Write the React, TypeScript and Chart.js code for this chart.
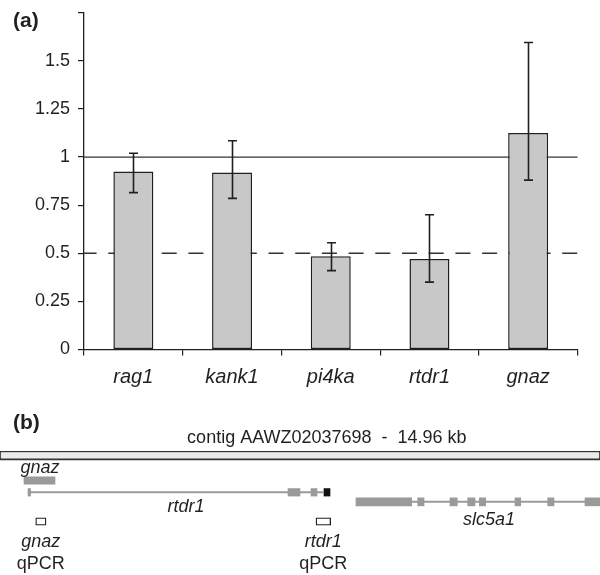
import React, { useEffect, useRef } from 'react';
import { Chart, registerables } from 'chart.js';

Chart.register(...registerables);

const FONT = "'Liberation Sans', Arial, Helvetica, sans-serif";
const INK = '#231f20';

// ---------- Panel (a) data ----------
const genes = ['rag1', 'kank1', 'pi4ka', 'rtdr1', 'gnaz'];
const relativeExpression = [0.925, 0.92, 0.485, 0.47, 1.125];
const errorLower = [0.815, 0.785, 0.41, 0.35, 0.88];
const errorUpper = [1.02, 1.085, 0.555, 0.7, 1.595];
const yAxisMin = 0;
const yAxisMax = 1.75;
const yAxisStep = 0.25;
const hiddenTickValues = [1.75];
const solidReferenceValue = 1;
const dashedReferenceValue = 0.5;
const panelALabel = '(a)';

// ---------- Panel (b) data (positions along contig, kb) ----------
const contigLengthKb = 14.96;
const contigTitle = 'contig AAWZ02037698  -  14.96 kb';
const panelBLabel = '(b)';
const gnazGeneExons = [[0.598, 1.371]];
const rtdr1Span = [0.698, 8.078];
const rtdr1Exons = [[0.698, 0.762], [7.181, 7.48], [7.754, 7.904]];
const rtdr1TerminalExon = [[8.078, 8.228]];
const slc5a1Span = [8.876, 14.96];
const slc5a1Exons = [
  [8.876, 10.265], [10.415, 10.572], [11.22, 11.402], [11.661, 11.843],
  [11.951, 12.11], [12.841, 12.983], [13.656, 13.813], [14.586, 14.96],
];
const qpcrAmplicons = [[0.89, 1.147], [7.879, 8.245]];
const qpcrTargets = ['gnaz', 'rtdr1'];
const geneNames = ['gnaz', 'rtdr1', 'slc5a1'];
const geneNameKb = [0.997, 4.638, 12.19];
const contigTitleKb = 8.15;

// ---------- layout (panel b tracks, px from panel top) ----------
const PANEL_A_H = 390;
const PANEL_B_H = 185;
const TRACK = {
  contig: 62.8,
  gnazGene: 90.3,
  rtdr1: 103.4,
  slc5a1: 114,
  qpcr: 135.8,
};
const BASELINE = {
  title: 53,
  panel: 39,
  gnazName: 83,
  rtdr1Name: 121.5,
  slc5a1Name: 135,
  qpcrTarget: 156.5,
  qpcrWord: 179,
};

function fmtTick(v: number) {
  const r = Math.round(v * 100) / 100;
  return String(r);
}

export default function App() {
  const refA = useRef<HTMLCanvasElement>(null);
  const refB = useRef<HTMLCanvasElement>(null);

  useEffect(() => {
    const refLines = {
      id: 'refLines',
      beforeDatasetsDraw(chart: any) {
        const { ctx, chartArea, scales } = chart;
        const y = scales.y;
        ctx.save();
        ctx.strokeStyle = '#333';
        ctx.lineWidth = 1.3;
        let py = y.getPixelForValue(solidReferenceValue);
        ctx.beginPath();
        ctx.moveTo(chartArea.left, py);
        ctx.lineTo(chartArea.right, py);
        ctx.stroke();
        py = y.getPixelForValue(dashedReferenceValue);
        ctx.setLineDash([15, 11.7]);
        ctx.lineDashOffset = 2.4;
        ctx.beginPath();
        ctx.moveTo(chartArea.left, py);
        ctx.lineTo(chartArea.right, py);
        ctx.stroke();
        ctx.restore();
      },
    };
    const errorBars = {
      id: 'errorBars',
      afterDatasetsDraw(chart: any) {
        const { ctx, scales } = chart;
        const meta = chart.getDatasetMeta(0);
        ctx.save();
        ctx.strokeStyle = INK;
        ctx.lineWidth = 1.6;
        meta.data.forEach((bar: any, i: number) => {
          const x = Math.round(bar.x) + 0.5;
          const yl = scales.y.getPixelForValue(errorLower[i]);
          const yh = scales.y.getPixelForValue(errorUpper[i]);
          ctx.beginPath();
          ctx.moveTo(x, yh);
          ctx.lineTo(x, yl);
          ctx.moveTo(x - 4.5, yh);
          ctx.lineTo(x + 4.5, yh);
          ctx.moveTo(x - 4.5, yl);
          ctx.lineTo(x + 4.5, yl);
          ctx.stroke();
        });
        ctx.restore();
      },
    };
    const panelA = {
      id: 'panelA',
      afterDraw(chart: any) {
        const ctx = chart.ctx;
        ctx.save();
        ctx.fillStyle = INK;
        ctx.font = `bold 21px ${FONT}`;
        ctx.textBaseline = 'alphabetic';
        ctx.textAlign = 'left';
        ctx.fillText(panelALabel, 13, 27);
        ctx.restore();
      },
    };

    const tickGrid = {
      drawOnChartArea: false,
      drawTicks: true,
      tickLength: 6,
      color: INK,
      lineWidth: 1.2,
    };

    const chartA = new Chart(refA.current as HTMLCanvasElement, {
      type: 'bar',
      data: {
        labels: genes,
        datasets: [
          {
            data: relativeExpression,
            backgroundColor: '#c8c8c8',
            borderColor: INK,
            borderWidth: 1.5,
            borderSkipped: false,
            barPercentage: 0.405,
            categoryPercentage: 1,
          },
        ],
      },
      options: {
        responsive: false,
        animation: false,
        layout: { padding: { top: 12.7, right: 22.5, left: 0, bottom: 0 } },
        plugins: { legend: { display: false }, tooltip: { enabled: false } },
        scales: {
          x: {
            grid: { ...tickGrid, offset: true },
            border: { display: true, color: INK, width: 1.3 },
            ticks: {
              font: { family: FONT, size: 20, style: 'italic' },
              color: INK,
              padding: 10,
            },
            afterFit: (s: any) => {
              s.height = PANEL_A_H - 349.5;
              s.paddingLeft = 0;
              s.paddingRight = 0;
            },
          },
          y: {
            min: yAxisMin,
            max: yAxisMax,
            grid: tickGrid,
            border: { display: true, color: INK, width: 1.3 },
            ticks: {
              stepSize: yAxisStep,
              font: { family: FONT, size: 18 },
              color: INK,
              padding: 8,
              callback: (v: any) =>
                hiddenTickValues.some((h) => Math.abs(h - v) < 1e-6) ? '' : fmtTick(Number(v)),
            },
            afterFit: (s: any) => {
              s.width = 84;
              s.paddingTop = 0;
              s.paddingBottom = 0;
            },
          },
        },
      },
      plugins: [refLines, errorBars, panelA],
    } as any);

    // ---------- Panel (b) ----------
    const GRAY = '#9a9a9a';
    const barDs = (ranges: number[][], track: number, thickness: number, extra: any = {}) => ({
      type: 'bar',
      indexAxis: 'y',
      stack: 'g',
      data: ranges.map((r) => ({ x: r, y: track })),
      barThickness: thickness,
      backgroundColor: GRAY,
      borderWidth: 0,
      borderSkipped: false,
      clip: false,
      ...extra,
    });
    const lineDs = (span: number[], track: number) => ({
      type: 'line',
      indexAxis: 'x',
      data: [
        { x: span[0], y: track },
        { x: span[1], y: track },
      ],
      borderColor: GRAY,
      borderWidth: 2,
      pointRadius: 0,
      fill: false,
      clip: false,
    });

    const panelBText = {
      id: 'panelBText',
      afterDatasetsDraw(chart: any) {
        const { ctx, scales } = chart;
        const X = (kb: number) => scales.x.getPixelForValue(kb);
        ctx.save();
        ctx.fillStyle = INK;
        ctx.textBaseline = 'alphabetic';
        ctx.textAlign = 'left';
        ctx.font = `bold 21px ${FONT}`;
        ctx.fillText(panelBLabel, 13, BASELINE.panel);
        ctx.textAlign = 'center';
        ctx.font = `18px ${FONT}`;
        ctx.fillText(contigTitle, X(contigTitleKb), BASELINE.title);
        ctx.font = `italic 18px ${FONT}`;
        const nameBase = [BASELINE.gnazName, BASELINE.rtdr1Name, BASELINE.slc5a1Name];
        geneNames.forEach((n, i) => ctx.fillText(n, X(geneNameKb[i]), nameBase[i]));
        qpcrAmplicons.forEach((a, i) => {
          const cx = X((a[0] + a[1]) / 2);
          ctx.font = `italic 18px ${FONT}`;
          ctx.fillText(qpcrTargets[i], cx, BASELINE.qpcrTarget);
          ctx.font = `18px ${FONT}`;
          ctx.fillText('qPCR', cx, BASELINE.qpcrWord);
        });
        ctx.restore();
      },
    };

    const chartB = new Chart(refB.current as HTMLCanvasElement, {
      type: 'bar',
      data: {
        datasets: [
          barDs([[0, contigLengthKb]], TRACK.contig, 9, {
            backgroundColor: '#ebebeb',
            borderColor: '#333',
            borderWidth: { top: 1.2, bottom: 2.2, left: 1.2, right: 1.2 },
          }),
          lineDs(rtdr1Span, TRACK.rtdr1),
          lineDs(slc5a1Span, TRACK.slc5a1),
          barDs(gnazGeneExons, TRACK.gnazGene, 7.5),
          barDs(rtdr1Exons, TRACK.rtdr1, 7.5),
          barDs(rtdr1TerminalExon, TRACK.rtdr1, 7.5, { backgroundColor: '#111' }),
          barDs(slc5a1Exons, TRACK.slc5a1, 8),
          barDs(qpcrAmplicons, TRACK.qpcr, 7.5, {
            backgroundColor: '#fff',
            borderColor: INK,
            borderWidth: 1.3,
          }),
        ],
      },
      options: {
        responsive: false,
        animation: false,
        indexAxis: 'y',
        layout: { padding: 0 },
        plugins: { legend: { display: false }, tooltip: { enabled: false } },
        scales: {
          x: { type: 'linear', min: 0, max: contigLengthKb, display: false, stacked: false },
          y: { type: 'linear', min: 0, max: PANEL_B_H, reverse: true, display: false },
        },
      },
      plugins: [panelBText],
    } as any);

    return () => {
      chartA.destroy();
      chartB.destroy();
    };
  }, []);

  return (
    <div
      style={{
        position: 'fixed',
        left: 0,
        top: 0,
        width: 600,
        height: 575,
        background: '#fff',
        overflow: 'hidden',
      }}
    >
      <canvas ref={refA} width={600} height={PANEL_A_H} style={{ display: 'block' }} />
      <canvas ref={refB} width={600} height={PANEL_B_H} style={{ display: 'block' }} />
    </div>
  );
}
